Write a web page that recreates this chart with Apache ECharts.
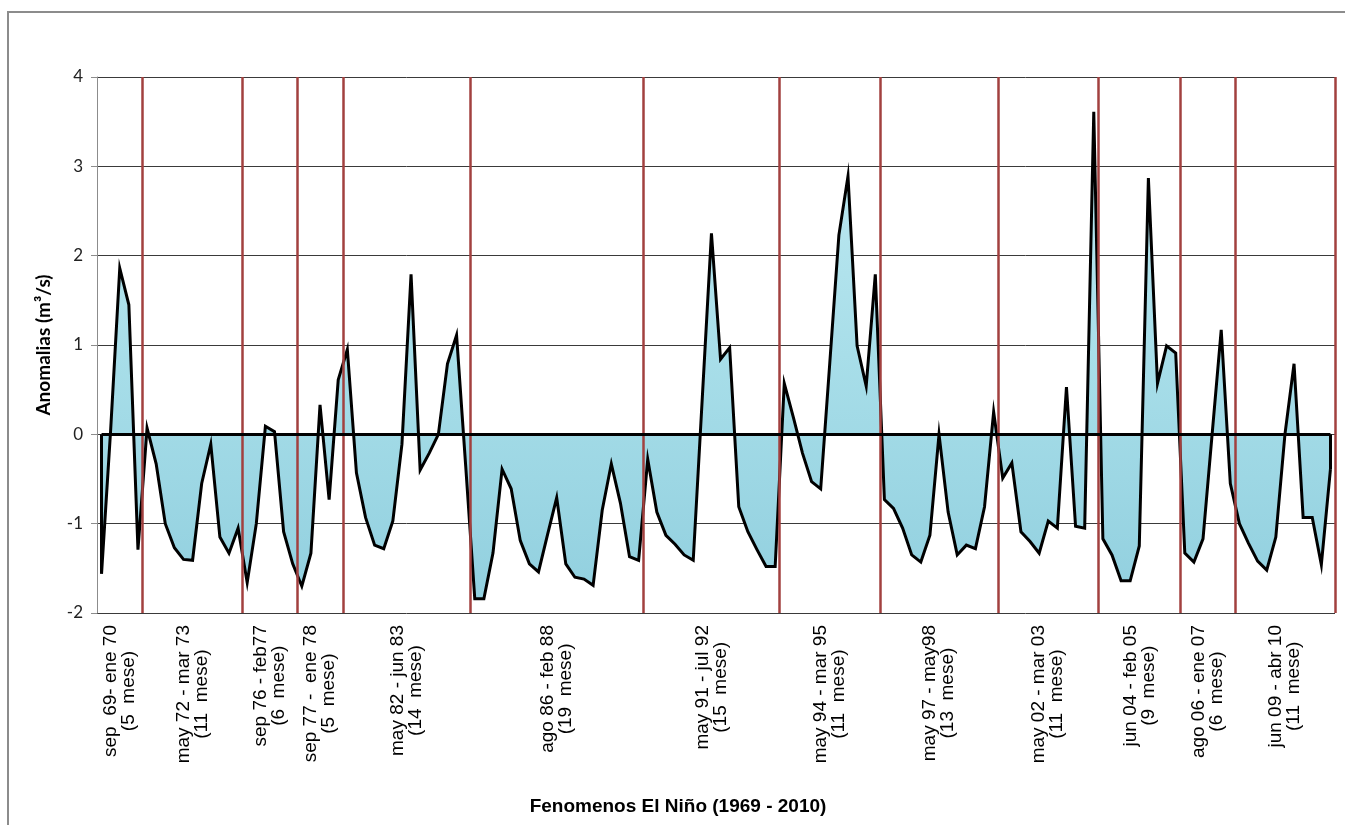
<!DOCTYPE html>
<html>
<head>
<meta charset="utf-8">
<title>Fenomenos El Niño (1969 - 2010)</title>
<script src="https://cdn.jsdelivr.net/npm/echarts@6/dist/echarts.min.js"></script>
<style>
  html, body { margin: 0; padding: 0; background: #fff; }
  #main { width: 1345px; height: 825px; }
</style>
</head>
<body>
<div id="main"></div>
<script>
// periods of El Niño and how many months each one lasted
var periods = ['sep  69- ene 70', 'may 72 - mar 73', 'sep 76 - feb77', 'sep 77 -  ene 78',
    'may 82 - jun 83', 'ago 86 - feb 88', 'may 91 - jul 92', 'may 94 - mar 95',
    'may 97 - may98', 'may 02 - mar 03', 'jun 04 - feb 05', 'ago 06 - ene 07', 'jun 09 - abr 10'];
var periodMonths = [5, 11, 6, 5, 14, 19, 15, 11, 13, 11, 9, 6, 11];

// monthly anomalies (m3/s), one value per month, periods one after another
var anomalies = [
    -1.56, 0.05, 1.86, 1.45, -1.29,
    0.07, -0.33, -1.0, -1.27, -1.40, -1.41, -0.55, -0.11, -1.15, -1.33, -1.05,
    -1.66, -1.0, 0.09, 0.03, -1.09, -1.45,
    -1.70, -1.33, 0.33, -0.73, 0.61,
    0.95, -0.43, -0.93, -1.24, -1.28, -0.97, -0.11, 1.79, -0.40, -0.21, 0.0, 0.79, 1.11, -0.35,
    -1.84, -1.84, -1.33, -0.39, -0.61, -1.19, -1.45, -1.54, -1.12, -0.71, -1.45, -1.60, -1.62, -1.69, -0.85, -0.33, -0.77, -1.37, -1.41,
    -0.28, -0.87, -1.13, -1.23, -1.35, -1.41, 0.42, 2.25, 0.84, 0.97, -0.81, -1.09, -1.29, -1.48, -1.48,
    0.57, 0.19, -0.21, -0.53, -0.61, 0.80, 2.23, 2.89, 0.99, 0.54, 1.79,
    -0.73, -0.83, -1.05, -1.35, -1.43, -1.13, 0.0, -0.87, -1.35, -1.24, -1.28, -0.81, 0.25,
    -0.49, -0.32, -1.09, -1.20, -1.33, -0.97, -1.05, 0.53, -1.03, -1.05, 3.61,
    -1.17, -1.35, -1.64, -1.64, -1.25, 2.87, 0.57, 0.99, 0.91,
    -1.33, -1.43, -1.17, 0.0, 1.17, -0.55,
    -1.0, -1.22, -1.42, -1.52, -1.15, 0.0, 0.79, -0.93, -0.93, -1.46, -0.39
];

var yMin = -2, yMax = 4, yStep = 1;

// separators after each period, label in the middle of each period
var bounds = [], centres = [];
var total = 0;
periodMonths.forEach(function (n) {
    centres.push(total + n / 2);
    total += n;
    bounds.push(total);
});

var points = anomalies.map(function (v, i) { return [i + 0.5, v]; });
var first = points[0], last = points[points.length - 1];

function periodLabel(value) {
    var k = 0;
    centres.forEach(function (c, i) {
        if (Math.abs(c - value) < Math.abs(centres[k] - value)) k = i;
    });
    return '{a|' + periods[k] + '}\n{b|(' + periodMonths[k] + '  mese)}';
}

var labelFont = { fontFamily: 'Liberation Sans', fontSize: 19, lineHeight: 18, color: '#000' };

var option = {
    backgroundColor: '#fff',
    animation: false,
    grid: { left: 97, right: 10, top: 77, bottom: 212, outerBoundsMode: 'none' },
    graphic: [{
        type: 'rect',
        shape: { x: 8, y: 12, width: 1400, height: 900 },
        style: { fill: 'none', stroke: '#8c8c8c', lineWidth: 2 },
        silent: true
    }],
    xAxis: {
        type: 'value',
        min: 0,
        max: total,
        name: 'Fenomenos El Niño (1969 - 2010)',
        nameLocation: 'middle',
        nameGap: 184,
        nameTextStyle: {
            fontFamily: 'Liberation Sans', fontWeight: 'bold', fontSize: 19, color: '#000',
            padding: [0, 76, 0, 0]
        },
        axisLine: { show: false },
        axisTick: { show: false },
        splitLine: { show: false },
        axisLabel: {
            customValues: centres,
            rotate: 90,
            margin: 12,
            fontFamily: labelFont.fontFamily,
            fontSize: labelFont.fontSize,
            lineHeight: labelFont.lineHeight,
            color: '#000',
            formatter: periodLabel,
            rich: {
                a: labelFont,
                b: { fontFamily: 'Liberation Sans', fontSize: 19, lineHeight: 18, color: '#000', align: 'center' }
            }
        }
    },
    yAxis: {
        type: 'value',
        min: yMin,
        max: yMax,
        interval: yStep,
        name: 'Anomalias (m³/s)',
        nameLocation: 'middle',
        nameGap: 44,
        nameTextStyle: { fontFamily: 'Lato', fontWeight: 'bold', fontSize: 19, color: '#000' },
        axisLine: { show: true, lineStyle: { color: '#8c8c8c', width: 1 } },
        axisTick: { show: true, length: 6, lineStyle: { color: '#8c8c8c' } },
        axisLabel: { fontFamily: 'Lato', fontSize: 17, color: '#222', margin: 14 },
        splitLine: { show: true, lineStyle: { color: '#3a3a3a', width: 1 } }
    },
    series: [
        {
            // filled area
            type: 'line',
            data: points,
            z: 1,
            showSymbol: false,
            silent: true,
            lineStyle: { width: 0 },
            areaStyle: {
                opacity: 1,
                color: new echarts.graphic.LinearGradient(0, 0, 0, 1, [
                    { offset: 0, color: '#c0eaf2' },
                    { offset: 0.5, color: '#a8dee9' },
                    { offset: 1, color: '#92d0df' }
                ])
            }
        },
        {
            // period separators
            type: 'line',
            data: [],
            z: 2,
            markLine: {
                silent: true,
                symbol: 'none',
                label: { show: false },
                lineStyle: { color: '#a2403f', width: 2.5, type: 'solid' },
                data: bounds.map(function (b) { return { xAxis: b }; })
            }
        },
        {
            // outline of the area
            type: 'line',
            data: points,
            z: 3,
            showSymbol: false,
            silent: true,
            lineStyle: { color: '#000', width: 3, join: 'miter' },
            markLine: {
                silent: true,
                symbol: 'none',
                label: { show: false },
                lineStyle: { color: '#000', width: 3, type: 'solid' },
                data: [
                    [{ coord: [first[0], 0] }, { coord: [last[0], 0] }],
                    [{ coord: [first[0], 0] }, { coord: first }],
                    [{ coord: [last[0], 0] }, { coord: last }]
                ]
            }
        }
    ]
};

var myChart = echarts.init(document.getElementById('main'));
myChart.setOption(option);
</script>
</body>
</html>
